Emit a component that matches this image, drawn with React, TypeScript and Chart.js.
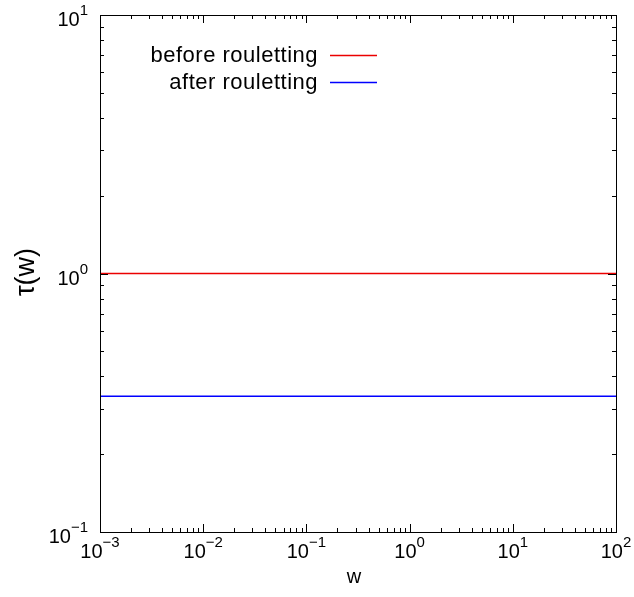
import React, { useEffect, useRef } from 'react';
import { Chart, registerables } from 'chart.js';

Chart.register(...registerables);

// ---- data ----
const wValues = [1e-3, 1e2];
const tauBefore = [1, 1];
const tauAfter = [0.335, 0.335];
const seriesLabels = ['before rouletting', 'after rouletting'];
const seriesColors = ['rgb(235, 0, 0)', 'rgb(0, 0, 255)'];
const xExponents = [-3, -2, -1, 0, 1, 2];
const yExponents = [-1, 0, 1];
const xTitle = 'w';
const yTitle = 'τ(w)';

const FONT = '"Liberation Sans", Arial, Helvetica, sans-serif';

function expText(exp: number) {
  return exp < 0 ? '\u2212' + String(-exp) : String(exp);
}

function drawPow(ctx: CanvasRenderingContext2D, exp: number, x: number, baseY: number, align: 'center' | 'right') {
  const base = '10';
  const e = expText(exp);
  ctx.font = `20px ${FONT}`;
  const wb = ctx.measureText(base).width;
  ctx.font = `15px ${FONT}`;
  const we = ctx.measureText(e).width;
  const total = wb + we;
  const start = align === 'center' ? x - total / 2 : x - total;
  ctx.textAlign = 'left';
  ctx.textBaseline = 'alphabetic';
  ctx.font = `20px ${FONT}`;
  ctx.fillText(base, start, baseY);
  ctx.font = `15px ${FONT}`;
  ctx.fillText(e, start + wb, baseY - 11);
}

const framePlugin = {
  id: 'gnuplotFrame',
  afterDatasetsDraw(chart: any) {
    const { ctx, chartArea, scales } = chart;
    const { left, right, top, bottom } = chartArea;
    const xs = scales.x;
    const ys = scales.y;
    ctx.save();
    ctx.strokeStyle = '#000';
    ctx.fillStyle = '#000';
    ctx.lineWidth = 1;
    ctx.strokeRect(Math.round(left) + 0.5, Math.round(top) + 0.5, Math.round(right - left), Math.round(bottom - top));
    const major = 8;
    const minor = 4;
    ctx.beginPath();
    const xMax = Math.pow(10, xExponents[xExponents.length - 1]) * 1.0001;
    for (const d of xExponents) {
      for (let k = 1; k <= 9; k++) {
        const v = k * Math.pow(10, d);
        if (v > xMax) continue;
        const px = Math.round(xs.getPixelForValue(v)) + 0.5;
        const len = k === 1 ? major : minor;
        ctx.moveTo(px, bottom);
        ctx.lineTo(px, bottom - len);
        ctx.moveTo(px, top);
        ctx.lineTo(px, top + len);
      }
    }
    const yMax = Math.pow(10, yExponents[yExponents.length - 1]) * 1.0001;
    for (const d of yExponents) {
      for (let k = 1; k <= 9; k++) {
        const v = k * Math.pow(10, d);
        if (v > yMax) continue;
        const py = Math.round(ys.getPixelForValue(v)) + 0.5;
        const len = k === 1 ? major : minor;
        ctx.moveTo(left, py);
        ctx.lineTo(left + len, py);
        ctx.moveTo(right, py);
        ctx.lineTo(right - len, py);
      }
    }
    ctx.stroke();

    for (const d of xExponents) {
      const px = xs.getPixelForValue(Math.pow(10, d));
      drawPow(ctx, d, px, bottom + 25.5, 'center');
    }
    for (const d of yExponents) {
      const py = ys.getPixelForValue(Math.pow(10, d));
      drawPow(ctx, d, left - 12, py + 11, 'right');
    }

    ctx.font = `20px ${FONT}`;
    ctx.textAlign = 'center';
    ctx.textBaseline = 'alphabetic';
    ctx.fillText(xTitle, (left + right) / 2 - 4, 583);
    ctx.save();
    ctx.translate(27, 272);
    ctx.rotate(-Math.PI / 2);
    ctx.font = `27px ${FONT}`;
    ctx.textBaseline = 'middle';
    ctx.fillText(yTitle, 0, 0);
    ctx.restore();

    const legendY = [55, 82];
    ctx.font = `22px ${FONT}`;
    try { (ctx as any).letterSpacing = '0.5px'; } catch (e) {}
    ctx.textAlign = 'right';
    ctx.textBaseline = 'middle';
    chart.data.datasets.forEach((ds: any, i: number) => {
      ctx.fillStyle = '#000';
      ctx.fillText(ds.label, 318, legendY[i] + 1);
      ctx.strokeStyle = seriesColors[i];
      ctx.lineWidth = 1.5;
      ctx.beginPath();
      ctx.moveTo(330, legendY[i] + 0.5);
      ctx.lineTo(377, legendY[i] + 0.5);
      ctx.stroke();
    });
    try { (ctx as any).letterSpacing = '0px'; } catch (e) {}
    ctx.restore();
  },
};

export default function App() {
  const ref = useRef<HTMLCanvasElement | null>(null);
  useEffect(() => {
    if (!ref.current) return;
    const series = [tauBefore, tauAfter];
    const chart = new Chart(ref.current, {
      type: 'line',
      data: {
        datasets: series.map((vals, i) => ({
          label: seriesLabels[i],
          data: wValues.map((x, j) => ({ x, y: vals[j] })),
          borderColor: seriesColors[i],
          backgroundColor: seriesColors[i],
          borderWidth: 1.5,
          pointRadius: 0,
          fill: false,
        })),
      },
      options: {
        responsive: false,
        animation: false,
        layout: { padding: { left: 100, top: 15, right: 18, bottom: 65 } },
        scales: {
          x: { type: 'logarithmic', min: 1e-3, max: 1e2, display: false },
          y: { type: 'logarithmic', min: 0.1, max: 10, display: false },
        },
        plugins: { legend: { display: false }, tooltip: { enabled: false } },
      },
      plugins: [framePlugin],
    } as any);
    return () => chart.destroy();
  }, []);
  return (
    <div style={{ position: 'absolute', left: 0, top: 0, width: 634, height: 597, background: '#fff' }}>
      <canvas ref={ref} width={634} height={597} style={{ display: 'block' }} />
    </div>
  );
}
